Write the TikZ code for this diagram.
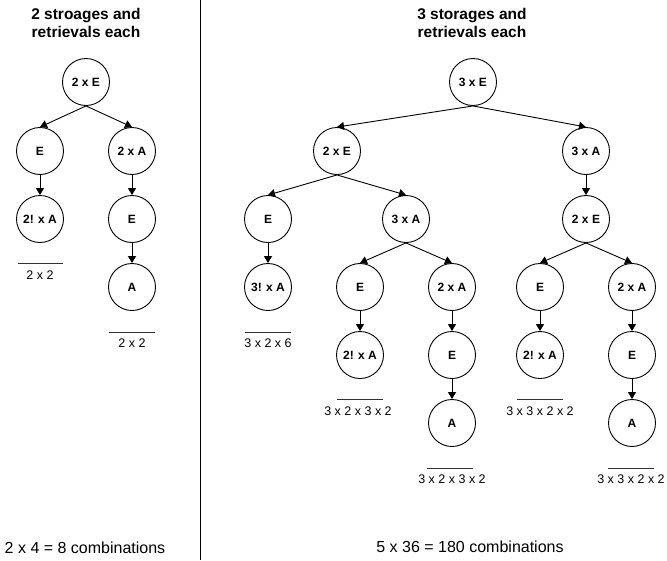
\documentclass[tikz,border=0pt]{standalone}
\usepackage{fontspec}
\setmainfont{Liberation Sans}
\usetikzlibrary{arrows.meta}
\begin{document}
\begin{tikzpicture}[x=1pt,y=-1pt,
  state/.style={circle,draw,line width=0.9pt,minimum size=47pt,inner sep=0pt,
    font=\fontsize{12}{14}\selectfont\bfseries},
  link/.style={line width=0.9pt,-{Triangle[length=7pt,width=8pt]}},
  heading/.style={align=center,font=\fontsize{15.5}{18}\selectfont\bfseries},
  product/.style={font=\fontsize{12.5}{14}\selectfont,inner sep=0pt},
  total/.style={font=\fontsize{16}{18}\selectfont,inner sep=0pt},
  bar/.style={line width=0.9pt,draw=black!80}]
\useasboundingbox (0,0) rectangle (667,560);

% panel divider
\draw[line width=1pt] (200,0) -- (200,560);

% ---------- two storages ----------
\node[heading] (h1) at (86,23) {2 stroages and\\retrievals each};
\node[state] (a0) at (86,82) {2 x E};
\node[state] (a1) at (40,151) {E};
\node[state] (a2) at (132,151) {2 x A};
\node[state] (a3) at (40,219) {2! x A};
\node[state] (a4) at (132,219) {E};
\node[state] (a5) at (132,287) {A};
\draw[link] (a0.south) -- (a1.north);
\draw[link] (a0.south) -- (a2.north);
\draw[link] (a1) -- (a3);
\draw[link] (a2) -- (a4);
\draw[link] (a4) -- (a5);

\coordinate (b1l) at (18,263); \coordinate (b1r) at (63,263);
\draw[bar] (b1l) -- (b1r);
\node[product] (p1) at (40,275) {2 x 2};
\coordinate (b2l) at (109,332); \coordinate (b2r) at (155,332);
\draw[bar] (b2l) -- (b2r);
\node[product] (p2) at (132,343) {2 x 2};

\node[total] (t1) at (85,548) {2 x 4 = 8 combinations};

% ---------- three storages ----------
\node[heading] (h2) at (472,23) {3 storages and\\retrievals each};
\node[state] (r0) at (473,82) {3 x E};
\node[state] (r1) at (337,151) {2 x E};
\node[state] (r2) at (586,151) {3 x A};
\node[state] (r3) at (268,219) {E};
\node[state] (r4) at (406,219) {3 x A};
\node[state] (r5) at (586,219) {2 x E};
\node[state] (r6) at (268,287) {3! x A};
\node[state] (r7) at (360,287) {E};
\node[state] (r8) at (452,287) {2 x A};
\node[state] (r9) at (540,287) {E};
\node[state] (r10) at (632,287) {2 x A};
\node[state] (r11) at (360,355) {2! x A};
\node[state] (r12) at (452,355) {E};
\node[state] (r13) at (540,355) {2! x A};
\node[state] (r14) at (632,355) {E};
\node[state] (r15) at (452,423) {A};
\node[state] (r16) at (632,423) {A};

\draw[link] (r0.south) -- (r1.north);
\draw[link] (r0.south) -- (r2.north);
\draw[link] (r1.south) -- (r3.north);
\draw[link] (r1.south) -- (r4.north);
\draw[link] (r2) -- (r5);
\draw[link] (r3) -- (r6);
\draw[link] (r4.south) -- (r7.north);
\draw[link] (r4.south) -- (r8.north);
\draw[link] (r5.south) -- (r9.north);
\draw[link] (r5.south) -- (r10.north);
\draw[link] (r7) -- (r11);
\draw[link] (r8) -- (r12);
\draw[link] (r9) -- (r13);
\draw[link] (r10) -- (r14);
\draw[link] (r12) -- (r15);
\draw[link] (r14) -- (r16);

\coordinate (c1l) at (245,332); \coordinate (c1r) at (291,332);
\draw[bar] (c1l) -- (c1r);
\node[product] (q1) at (268,343) {3 x 2 x 6};
\coordinate (c2l) at (337,399); \coordinate (c2r) at (383,399);
\draw[bar] (c2l) -- (c2r);
\node[product] (q2) at (358,411) {3 x 2 x 3 x 2};
\coordinate (c3l) at (517,399); \coordinate (c3r) at (563,399);
\draw[bar] (c3l) -- (c3r);
\node[product] (q3) at (540,411) {3 x 3 x 2 x 2};
\coordinate (c4l) at (427,468); \coordinate (c4r) at (473,468);
\draw[bar] (c4l) -- (c4r);
\node[product] (q4) at (452,479) {3 x 2 x 3 x 2};
\coordinate (c5l) at (608,468); \coordinate (c5r) at (654,468);
\draw[bar] (c5l) -- (c5r);
\node[product] (q5) at (631,479) {3 x 3 x 2 x 2};

\node[total] (t2) at (470,547) {5 x 36 = 180 combinations};
\end{tikzpicture}
\end{document}
